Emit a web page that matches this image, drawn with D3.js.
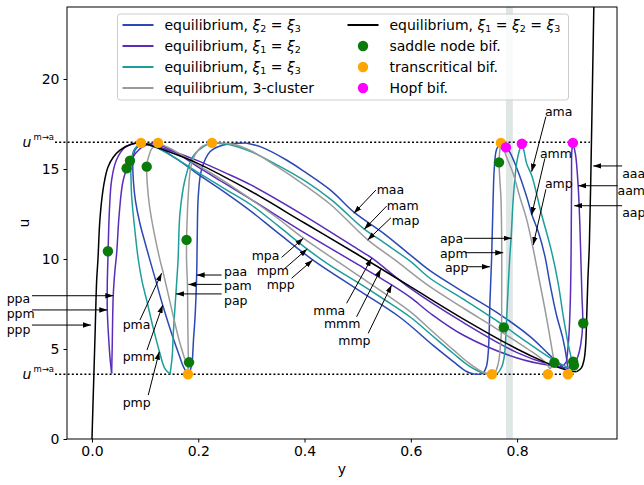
<!DOCTYPE html>
<html>
<head>
<meta charset="utf-8">
<script src="https://cdn.jsdelivr.net/npm/d3@7"></script>
<style>
body { margin: 0; background: #fff; }
text { font-family: "DejaVu Sans", sans-serif; }
</style>
</head>
<body>
<div id="vis"></div>
<script>
// branch data: [y, u] pairs
// black, xi1 = xi2 = xi3
var ppp = [[-0.0006,-1],[0,0],[0.003,3],[0.006,6],[0.0088,8.8],[0.0113,10],[0.0145,12],[0.0188,13.4],[0.024,14.4],[0.03,15.1],[0.04,15.65],[0.0527,16.05],[0.0747,16.39],[0.09,16.45]];
var mmm = [[0.09,16.45],[0.1,16.4],[0.15,15.9],[0.2,15.3],[0.25,14.55],[0.3,13.75],[0.4,12.0],[0.5,10.25],[0.6,8.45],[0.7,6.65],[0.8,5.0],[0.85,4.3],[0.88,3.95],[0.9,3.78],[0.912,3.74]];
var aaa = [[0.912,3.74],[0.921,3.95],[0.926,4.4],[0.929,5.2],[0.931,6.8],[0.933,8.7],[0.936,10.8],[0.939,15.0],[0.942,20],[0.945,25]];
// purple, xi1 = xi2
var ppm = [[0.037,3.65],[0.034,4.5],[0.031,5.8],[0.0288,7.17],[0.0288,8.6],[0.030,10.0],[0.0326,12.55],[0.037,14.4],[0.046,15.5],[0.062,16.2],[0.084,16.45]];
var ppa = [[0.037,3.65],[0.038,5.0],[0.040,7.96],[0.043,9.3],[0.0464,10.3],[0.0514,12.55],[0.059,14.4],[0.0715,15.4],[0.0935,16.2],[0.115,16.45]];
var mma = [[0.084,16.45],[0.11,16.35],[0.15,16.0],[0.2,15.45],[0.25,14.8],[0.3,14.1],[0.4,12.4],[0.5,10.55],[0.527,10.05],[0.6,8.35],[0.7,6.45],[0.8,4.8],[0.86,4.15],[0.895,3.95],[0.906,4.1]];
var aam = [[0.906,4.1],[0.914,4.55],[0.92,5.3],[0.9235,6.43],[0.922,8.0],[0.92,10.0],[0.918,12.0],[0.915,14.0],[0.91,15.8],[0.905,16.45]];
var aap = [[0.905,16.45],[0.903,16.0],[0.9025,14.0],[0.902,12.0],[0.9015,10.0],[0.9,7.5],[0.897,5.5],[0.893,4.3]];
var mmp = [[0.115,16.45],[0.15,16.05],[0.2,15.1],[0.25,14.2],[0.3,13.3],[0.4,11.45],[0.5,9.7],[0.564,8.56],[0.6,7.85],[0.636,7.0],[0.7,5.75],[0.8,4.5],[0.86,4.1],[0.885,4.05],[0.893,4.3]];
// teal, xi1 = xi3
var pmp = [[0.092,16.45],[0.079,16.05],[0.0735,15.3],[0.0735,14.4],[0.0747,13.46],[0.08,11.8],[0.087,10.0],[0.094,8.8],[0.103,7.7],[0.115,6.2],[0.127,4.85],[0.137,3.93],[0.147,3.62]];
var pap = [[0.147,3.62],[0.151,4.6],[0.153,5.87],[0.158,8.09],[0.162,9.94],[0.1656,12.54],[0.175,14.4],[0.19,15.7],[0.21,16.24],[0.226,16.45]];
var mam = [[0.226,16.45],[0.26,16.35],[0.3,15.95],[0.35,15.2],[0.4,14.35],[0.45,13.3],[0.512,11.67],[0.55,10.9],[0.6,9.85],[0.636,8.93],[0.7,7.75],[0.76,6.6],[0.82,5.35],[0.86,4.55],[0.89,4.05],[0.906,3.85]];
var ama = [[0.906,3.85],[0.9025,4.4],[0.896,5.3],[0.887,6.8],[0.877,8.7],[0.865,10.4],[0.845,12.6],[0.828,14.6],[0.818,15.3],[0.813,16.0],[0.809,16.45]];
var apa = [[0.809,16.45],[0.804,16.0],[0.799,15.3],[0.793,13.46],[0.789,11.3],[0.786,10.0],[0.782,7.72],[0.779,5.9],[0.776,4.6],[0.771,4.0],[0.763,3.65],[0.755,3.6]];
var mpm = [[0.092,16.45],[0.12,16.2],[0.16,15.55],[0.2,14.8],[0.25,13.9],[0.3,13.0],[0.35,11.85],[0.4045,10.56],[0.45,9.6],[0.5,8.7],[0.55,7.75],[0.6,6.75],[0.64,5.75],[0.68,4.75],[0.71,4.05],[0.735,3.68],[0.755,3.6]];
// grey, 3-cluster
var pma = [[0.124,16.45],[0.112,16.1],[0.105,15.5],[0.103,15.13],[0.104,14.2],[0.108,13.0],[0.116,11.6],[0.128,9.94],[0.1344,9.2],[0.15,7.2],[0.163,5.6],[0.173,4.6],[0.181,3.94],[0.1815,3.6]];
var pam = [[0.1815,3.6],[0.1815,4.26],[0.1805,6.0],[0.1796,8.6],[0.178,9.94],[0.178,11.06],[0.1795,12.5],[0.181,13.46],[0.1875,15.3],[0.203,16.15],[0.222,16.43],[0.245,16.45]];
var map = [[0.245,16.45],[0.27,16.35],[0.3,16.0],[0.35,15.1],[0.4,14.1],[0.45,13.0],[0.519,11.06],[0.57,9.95],[0.636,8.46],[0.7,7.25],[0.76,6.15],[0.82,5.0],[0.85,4.35],[0.862,3.9]];
var amp = [[0.862,3.9],[0.87,4.24],[0.868,4.57],[0.855,6.8],[0.842,8.8],[0.83,10.6],[0.818,12.2],[0.805,13.46],[0.792,14.8],[0.78,15.68],[0.774,16.2],[0.7695,16.45]];
var apm = [[0.7695,16.45],[0.767,15.9],[0.766,15.37],[0.7675,14.4],[0.7695,13.46],[0.771,11.06],[0.771,7.72],[0.7705,6.0],[0.7675,4.8],[0.7646,4.2],[0.758,3.68],[0.75,3.6]];
var mpa = [[0.124,16.45],[0.15,16.1],[0.2,15.2],[0.25,14.3],[0.3,13.3],[0.35,12.25],[0.397,11.17],[0.45,10.1],[0.5,9.1],[0.55,8.1],[0.6,7.05],[0.636,6.1],[0.68,4.95],[0.71,4.2],[0.735,3.72],[0.75,3.6]];
// blue, xi2 = xi3
var pmm = [[0.095,16.45],[0.081,16.05],[0.077,15.3],[0.078,14.3],[0.082,13.2],[0.09,12.0],[0.099,11.0],[0.109,9.94],[0.121,8.7],[0.133,7.44],[0.15,5.85],[0.163,4.75],[0.172,4.02],[0.179,3.72],[0.185,3.8]];
var paa = [[0.185,3.8],[0.1885,4.3],[0.191,5.5],[0.194,6.8],[0.197,9.1],[0.198,11.0],[0.2,13.46],[0.206,14.94],[0.222,15.96],[0.247,16.33],[0.29,16.45]];
var maa = [[0.29,16.45],[0.32,16.2],[0.366,15.5],[0.4,14.85],[0.45,13.8],[0.493,12.6],[0.55,11.4],[0.6,10.2],[0.636,9.35],[0.7,8.15],[0.761,7.05],[0.824,5.7],[0.86,4.7],[0.887,3.95],[0.896,3.7]];
var amm = [[0.896,3.7],[0.894,4.3],[0.886,5.6],[0.874,6.9],[0.862,8.6],[0.852,10.2],[0.84,11.5],[0.828,12.44],[0.818,13.46],[0.8,15.0],[0.786,15.95],[0.776,16.35],[0.768,16.45]];
var app = [[0.768,16.45],[0.761,16.06],[0.757,15.0],[0.755,13.46],[0.752,10.0],[0.749,7.7],[0.746,4.94],[0.742,4.0],[0.735,3.65],[0.72,3.6]];
var mpp = [[0.095,16.45],[0.12,16.25],[0.16,15.55],[0.2,14.7],[0.25,13.7],[0.297,12.7],[0.35,11.45],[0.416,9.94],[0.5,8.3],[0.58,6.75],[0.642,5.2],[0.68,4.3],[0.705,3.75],[0.72,3.6]];

// bifurcation points
var saddleNode = [[0.030,10.43],[0.0652,15.04],[0.0715,15.46],[0.103,15.13],[0.178,11.06],[0.1827,4.26],[0.766,15.37],[0.775,6.2],[0.870,4.24],[0.9055,4.3],[0.907,4.1],[0.9245,6.43]];
var transcritical = [[0.0922,16.45],[0.1242,16.45],[0.2258,16.45],[0.7695,16.45],[0.1806,3.6],[0.7526,3.6],[0.858,3.6],[0.8956,3.6]];
var hopf = [[0.779,16.2],[0.809,16.4],[0.905,16.45]];

// thresholds u^{m->a}
var uLevels = [16.48, 3.6];
var uLevelEnds = [0.937, 0.907];
var band = [0.779, 0.792];

var xTicks = [0, 0.2, 0.4, 0.6, 0.8];
var yTicks = [0, 5, 10, 15, 20];

// label, text [y,u], arrow start [y,u], arrow tip [y,u]
var notes = [
	['ppa', [-0.1605,7.82], [-0.1129,7.96], [0.0401,7.96]],
	['ppm', [-0.1605,6.98], [-0.1129,7.17], [0.0288,7.17]],
	['ppp', [-0.1605,6.09], [-0.1129,6.33], [-0.0019,6.33]],
	['pma', [0.0578,6.37], [0.0903,6.61], [0.1311,9.21]],
	['pmm', [0.0578,4.61], [0.1035,4.94], [0.133,7.44]],
	['pmp', [0.0578,2.02], [0.1059,2.44], [0.1266,4.85]],
	['paa', [0.2484,9.33], [0.244,9.11], [0.197,9.11]],
	['pam', [0.2484,8.52], [0.244,8.59], [0.1812,8.59]],
	['pap', [0.2484,7.71], [0.244,8.06], [0.158,8.06]],
	['mpa', [0.3005,10.17], [0.3569,10.09], [0.3976,11.15]],
	['mpm', [0.3099,9.36], [0.3631,9.48], [0.4051,10.56]],
	['mpp', [0.3287,8.58], [0.3757,8.93], [0.4152,9.94]],
	['maa', [0.5357,13.87], [0.5343,13.83], [0.4929,12.54]],
	['mam', [0.5545,13.0], [0.5545,12.94], [0.5123,11.65]],
	['map', [0.5639,12.13], [0.5626,12.29], [0.5187,11.06]],
	['mma', [0.4164,7.16], [0.4792,7.54], [0.5262,10.04]],
	['mmm', [0.4365,6.4], [0.498,6.79], [0.5437,9.44]],
	['mmp', [0.4634,5.5], [0.5198,5.87], [0.5639,8.56]],
	['apa', [0.6548,11.15], [0.6999,11.15], [0.7897,11.15]],
	['apm', [0.6548,10.33], [0.7018,10.35], [0.7739,10.35]],
	['app', [0.6642,9.52], [0.705,9.57], [0.7488,9.57]],
	['ama', [0.8523,18.18], [0.8542,17.91], [0.8273,14.85]],
	['amm', [0.8429,15.87], [0.8523,15.59], [0.8273,12.44]],
	['amp', [0.8523,14.17], [0.8542,13.87], [0.8303,10.78]],
	['aaa', [0.9977,14.76], [0.9977,15.17], [0.9432,15.17]],
	['aam', [0.989,13.83], [0.989,14.07], [0.915,14.07]],
	['aap', [0.9977,12.57], [0.9977,12.96], [0.9074,12.96]]
];

var colours = {blue: '#2a49b4', purple: '#5a2db9', teal: '#1c9e9c', grey: '#9b9b9b', black: '#000000'};
var branches = [
	{colour: colours.blue, segs: [pmm, paa, maa, amm, app, mpp]},
	{colour: colours.purple, segs: [ppm, ppa, mma, aam, aap, mmp]},
	{colour: colours.teal, segs: [pmp, pap, mam, ama, apa, mpm]},
	{colour: colours.grey, segs: [pma, pam, map, amp, apm, mpa]},
	{colour: colours.black, segs: [ppp, mmm, aaa]}
];

var width = 644, height = 485;
var margin = {top: 7, bottom: 46, left: 67, right: 27};
var svg = d3.select('#vis').append('svg').attr('width', width).attr('height', height);

var x = d3.scaleLinear().domain([-0.047, 0.988]).range([margin.left, width - margin.right]);
var y = d3.scaleLinear().domain([0, 24]).range([height - margin.bottom, margin.top]);

svg.append('defs').append('clipPath').attr('id', 'clip').append('rect')
	.attr('x', x.range()[0]).attr('y', y.range()[1])
	.attr('width', x.range()[1] - x.range()[0]).attr('height', y.range()[0] - y.range()[1]);
svg.select('defs').append('marker').attr('id', 'head')
	.attr('markerUnits', 'userSpaceOnUse').attr('markerWidth', 8).attr('markerHeight', 6)
	.attr('refX', 8).attr('refY', 3).attr('orient', 'auto')
	.append('path').attr('d', 'M0,0.3L8,3L0,5.7z').attr('fill', '#000');

// grey band
svg.append('rect').attr('x', x(band[0])).attr('width', x(band[1]) - x(band[0]))
	.attr('y', y(24)).attr('height', y(0) - y(24)).attr('fill', '#dfe6e6');

// dotted thresholds
uLevels.forEach(function(u, i) {
	svg.append('line').attr('x1', x.range()[0] - 12).attr('x2', x(uLevelEnds[i]))
		.attr('y1', y(u)).attr('y2', y(u))
		.attr('stroke', '#000').attr('stroke-width', 1.5).attr('stroke-dasharray', '2,2.2');
	var t = svg.append('text').attr('x', x.range()[0] - 13).attr('y', y(u))
		.attr('text-anchor', 'end').attr('dominant-baseline', 'central').attr('font-size', '14px');
	t.append('tspan').attr('font-style', 'italic').text('u');
	t.append('tspan').attr('font-size', '8.5px').attr('dy', -5).attr('dx', 2).text('m\u2192a');
});

var line = d3.line().x(function(d) { return x(d[0]); }).y(function(d) { return y(d[1]); })
	.curve(d3.curveCatmullRom.alpha(0.5));
var plot = svg.append('g').attr('clip-path', 'url(#clip)');
branches.forEach(function(b) {
	plot.selectAll(null).data(b.segs).enter().append('path')
		.attr('d', line).attr('fill', 'none').attr('stroke', b.colour)
		.attr('stroke-width', 1.5).attr('stroke-linejoin', 'round');
});

function dots(data, colour) {
	svg.selectAll(null).data(data).enter().append('circle')
		.attr('cx', function(d) { return x(d[0]); }).attr('cy', function(d) { return y(d[1]); })
		.attr('r', 5.2).attr('fill', colour);
}
dots(saddleNode, '#0a7a0a');
dots(transcritical, '#ffa500');
dots(hopf, '#ff00ff');

// frame and axes
svg.append('rect').attr('x', x.range()[0]).attr('y', y.range()[1])
	.attr('width', x.range()[1] - x.range()[0]).attr('height', y.range()[0] - y.range()[1])
	.attr('fill', 'none').attr('stroke', '#000').attr('stroke-width', 1);
var xAxis = svg.append('g').attr('transform', 'translate(0,' + y(0) + ')')
	.call(d3.axisBottom(x).tickValues(xTicks).tickFormat(d3.format('.1f')).tickSize(3.5).tickPadding(4));
var yAxis = svg.append('g').attr('transform', 'translate(' + x.range()[0] + ',0)')
	.call(d3.axisLeft(y).tickValues(yTicks).tickSize(3.5).tickPadding(4));
[xAxis, yAxis].forEach(function(a) {
	a.select('.domain').remove();
	a.selectAll('text').attr('font-family', '"DejaVu Sans", sans-serif').attr('font-size', '14px').attr('fill', '#000');
	a.selectAll('line').attr('stroke', '#000');
});
svg.append('text').attr('x', (x.range()[0] + x.range()[1]) / 2).attr('y', height - 11)
	.attr('text-anchor', 'middle').attr('font-size', '14px').text('y');
svg.append('text').attr('transform', 'translate(29,' + y(12) + ') rotate(-90)')
	.attr('text-anchor', 'middle').attr('font-size', '14px').text('u');

// annotations
var ann = svg.append('g');
notes.forEach(function(n) {
	ann.append('line').attr('x1', x(n[2][0])).attr('y1', y(n[2][1]))
		.attr('x2', x(n[3][0])).attr('y2', y(n[3][1]))
		.attr('stroke', '#000').attr('stroke-width', 1).attr('marker-end', 'url(#head)');
	ann.append('text').attr('x', x(n[1][0])).attr('y', y(n[1][1]))
		.attr('dominant-baseline', 'central').attr('font-family', '"Liberation Sans", Arial, sans-serif')
		.attr('font-size', '12.5px').text(n[0]);
});

// legend
var legendItems = [
	{label: 'equilibrium, ξ_2 = ξ_3', colour: colours.blue, kind: 'line', col: 0, row: 0},
	{label: 'equilibrium, ξ_1 = ξ_2', colour: colours.purple, kind: 'line', col: 0, row: 1},
	{label: 'equilibrium, ξ_1 = ξ_3', colour: colours.teal, kind: 'line', col: 0, row: 2},
	{label: 'equilibrium, 3-cluster', colour: colours.grey, kind: 'line', col: 0, row: 3},
	{label: 'equilibrium, ξ_1 = ξ_2 = ξ_3', colour: colours.black, kind: 'line', col: 1, row: 0},
	{label: 'saddle node bif.', colour: '#0a7a0a', kind: 'dot', col: 1, row: 1},
	{label: 'transcritical bif.', colour: '#ffa500', kind: 'dot', col: 1, row: 2},
	{label: 'Hopf bif.', colour: '#ff00ff', kind: 'dot', col: 1, row: 3}
];
var lg = svg.append('g');
lg.append('rect').attr('x', 117.5).attr('y', 14).attr('width', 451).attr('height', 86).attr('rx', 3)
	.attr('fill', '#fff').attr('fill-opacity', 0.8).attr('stroke', '#cccccc').attr('stroke-width', 1);
var colX = [122.5, 347.5];
legendItems.forEach(function(d) {
	var x0 = colX[d.col], yy = 25 + d.row * 21;
	if (d.kind === 'line') {
		lg.append('line').attr('x1', x0).attr('x2', x0 + 31).attr('y1', yy).attr('y2', yy)
			.attr('stroke', d.colour).attr('stroke-width', 2);
	} else {
		lg.append('circle').attr('cx', x0 + 15.5).attr('cy', yy).attr('r', 5.2).attr('fill', d.colour);
	}
	var t = lg.append('text').attr('x', x0 + 42).attr('y', yy).attr('dominant-baseline', 'central')
		.attr('font-size', '14px');
	var shift = 0;
	d.label.split(/(ξ_\d)/).forEach(function(p) {
		if (p === '') return;
		if (/^ξ_\d$/.test(p)) {
			t.append('tspan').attr('font-style', 'italic').attr('dy', -shift).text('ξ');
			t.append('tspan').attr('font-size', '9.5px').attr('dy', 3).text(p.charAt(2));
			shift = 3;
		} else {
			t.append('tspan').attr('dy', -shift).text(p);
			shift = 0;
		}
	});
});
</script>
</body>
</html>
